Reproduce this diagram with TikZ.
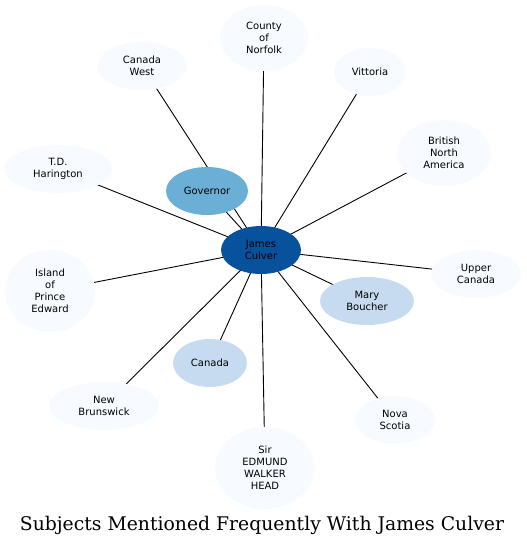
\documentclass[tikz,border=0pt]{standalone}
\usepackage{fontspec}
\newfontfamily\dejavu{DejaVu Sans}
\newfontfamily\dejavuserif{DejaVu Serif}
\usetikzlibrary{shapes.geometric}
\definecolor{cdark}{HTML}{08519C}
\definecolor{cmid}{HTML}{6BAED6}
\definecolor{clight}{HTML}{C6DBEF}
\definecolor{cpale}{HTML}{F7FBFF}
\tikzset{
  ent/.style={ellipse, inner sep=0pt, align=center, font=\dejavu\fontsize{10}{12}\selectfont, text=black},
  pale/.style={ent, fill=cpale},
  light/.style={ent, fill=clight},
  mid/.style={ent, fill=cmid},
  dark/.style={ent, fill=cdark},
  link/.style={draw=black, line width=0.9pt}
}
\begin{document}
\begin{tikzpicture}[x=1pt,y=-1pt]
\useasboundingbox (0,0) rectangle (527,547);
% centres, so that edges can be drawn beneath the nodes
\coordinate (cjc) at (261,250);
\coordinate (cgov) at (207,191);
\coordinate (cmb) at (367,301);
\coordinate (ccan) at (210,363);
\coordinate (ccn) at (264,38);
\coordinate (ccw) at (142,66);
\coordinate (cvit) at (370,72);
\coordinate (cbna) at (444,153);
\coordinate (ctdh) at (58,169);
\coordinate (cipe) at (50,291);
\coordinate (cuc) at (476,274);
\coordinate (cnb) at (104,406);
\coordinate (cns) at (395,420);
\coordinate (cseh) at (265,468);
\foreach \n in {gov,mb,can,cn,cw,vit,bna,tdh,ipe,uc,nb,ns,seh} {
  \draw[link] (cjc) -- (c\n);
}
\node[dark, minimum width=80pt, minimum height=48pt] (jc) at (cjc) {James\\Culver};
\node[mid, minimum width=82pt, minimum height=48pt] (gov) at (cgov) {Governor};
\node[light, minimum width=94pt, minimum height=48pt] (mb) at (cmb) {Mary\\Boucher};
\node[light, minimum width=74pt, minimum height=48pt] (can) at (ccan) {Canada};
\node[pale, minimum width=88pt, minimum height=66pt] (cn) at (ccn) {County\\of\\Norfolk};
\node[pale, minimum width=90pt, minimum height=48pt] (cw) at (ccw) {Canada\\West};
\node[pale, minimum width=72pt, minimum height=48pt] (vit) at (cvit) {Vittoria};
\node[pale, minimum width=94pt, minimum height=66pt] (bna) at (cbna) {British\\North\\America};
\node[pale, minimum width=108pt, minimum height=48pt] (tdh) at (ctdh) {T.D.\\Harington};
\node[pale, minimum width=90pt, minimum height=82pt] (ipe) at (cipe) {Island\\of\\Prince\\Edward};
\node[pale, minimum width=90pt, minimum height=48pt] (uc) at (cuc) {Upper\\Canada};
\node[pale, minimum width=110pt, minimum height=48pt] (nb) at (cnb) {New\\Brunswick};
\node[pale, minimum width=80pt, minimum height=48pt] (ns) at (cns) {Nova\\Scotia};
\node[pale, minimum width=100pt, minimum height=82pt] (seh) at (cseh) {Sir\\EDMUND\\WALKER\\HEAD};
\node[font=\dejavuserif\fontsize{18.8}{21}\selectfont] (title) at (262,525) {Subjects Mentioned Frequently With James Culver};
\end{tikzpicture}
\end{document}
